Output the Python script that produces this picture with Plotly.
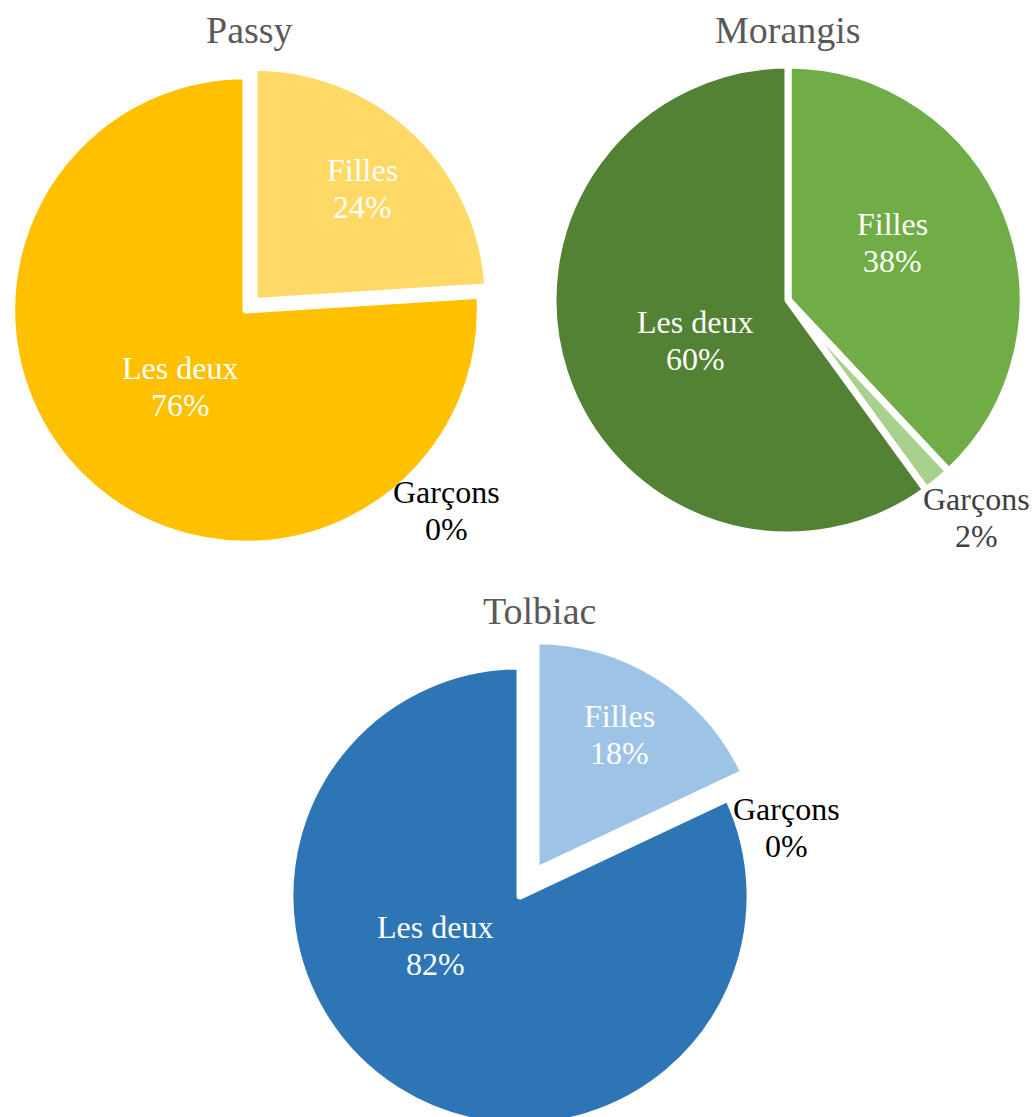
import plotly.graph_objects as go

# ---- data ----
categories = ["Filles", "Garçons", "Les deux"]
sites = ["Passy", "Morangis", "Tolbiac"]
passy_values = [24, 0, 76]
morangis_values = [38, 2, 60]
tolbiac_values = [18, 0, 82]

# ---- styles / layout ----
W, H = 1034, 1117          # visible window
FIG_H = 1160               # figure is a bit taller; bottom pie is cut by the window
FONT = "Liberation Serif"
LABEL_SIZE = 32
LINE_GAP = 37
colors = {
    "Passy": ["#FFD966", "#F4B183", "#FFC000"],
    "Morangis": ["#70AD47", "#A9D18E", "#548235"],
    "Tolbiac": ["#9DC3E6", "#BDD7EE", "#2E75B6"],
}
pulls = {"Passy": [0.05, 0, 0], "Morangis": [0, 0, 0], "Tolbiac": [0.13, 0, 0]}
# pie domains in pixel coords (x0, x1, ytop, ybottom)
dom_px = {
    "Passy": (0, 492, 64, 556),
    "Morangis": (553, 1023, 65, 535),
    "Tolbiac": (260, 780, 636, 1156),
}
title_pos = {"Passy": (249, 30), "Morangis": (788, 30), "Tolbiac": (539, 611)}
# centre of first label line for each slice (pixels)
label_pos = {
    "Passy": [(362, 170), (446, 492), (180, 368)],
    "Morangis": [(892, 224), (976, 499), (695, 322)],
    "Tolbiac": [(619, 716), (786, 809), (435, 927)],
}
label_colors = {
    "Passy": ["white", "#000000", "white"],
    "Morangis": ["white", "#404040", "white"],
    "Tolbiac": ["white", "#000000", "white"],
}

values = {"Passy": passy_values, "Morangis": morangis_values, "Tolbiac": tolbiac_values}


def ann(text, px, py, size, color):
    return dict(text=text, x=px / W, y=1 - py / FIG_H, xref="paper", yref="paper",
                showarrow=False, xanchor="center", yanchor="middle",
                font=dict(family=FONT, size=size, color=color))


fig = go.Figure()
annotations = []
for s in sites:
    x0, x1, yt, yb = dom_px[s]
    vals = values[s]
    fig.add_trace(go.Pie(
        labels=categories, values=vals, name=s,
        sort=False, direction="clockwise", rotation=0,
        pull=pulls[s],
        marker=dict(colors=colors[s], line=dict(color="white", width=7)),
        textinfo="none",
        domain=dict(x=[x0 / W, x1 / W], y=[1 - yb / FIG_H, 1 - yt / FIG_H]),
        hoverinfo="label+percent",
        showlegend=False,
    ))
    tx, ty = title_pos[s]
    annotations.append(ann(s, tx, ty, 38, "#595959"))
    total = sum(vals)
    for i, cat in enumerate(categories):
        pct = round(100 * vals[i] / total)
        lx, ly = label_pos[s][i]
        c = label_colors[s][i]
        annotations.append(ann(cat, lx, ly, LABEL_SIZE, c))
        annotations.append(ann(f"{pct}%", lx, ly + LINE_GAP, LABEL_SIZE, c))

fig.update_layout(
    width=W, height=FIG_H,
    margin=dict(l=0, r=0, t=0, b=0),
    paper_bgcolor="white", plot_bgcolor="white",
    showlegend=False,
    annotations=annotations,
)

fig.write_html(
    "out.html",
    config={"displayModeBar": False},
    post_script=(
        "document.documentElement.style.overflow='hidden';"
        "document.body.style.margin='0px';"
        "document.body.style.height='%dpx';"
        "document.body.style.overflow='hidden';" % H
    ),
)
